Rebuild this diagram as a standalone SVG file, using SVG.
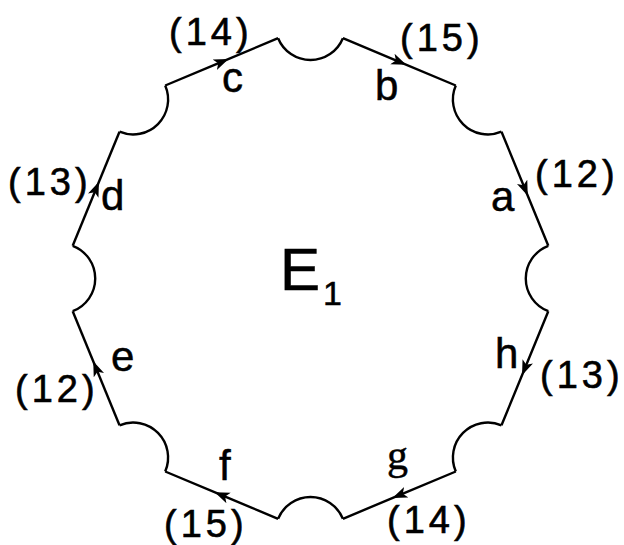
<svg xmlns="http://www.w3.org/2000/svg" width="624" height="545" viewBox="0 0 624 545">
  <style>
    .ln { fill: none; stroke: #000; stroke-width: 2.4; stroke-linejoin: miter; }
    .edge { fill: none; stroke: #000; stroke-width: 2.4; marker-mid: url(#arr); }
    .lbl { font-family: "Liberation Sans", Arial, sans-serif; font-size: 42px; fill: #000; stroke: #000; stroke-width: 0.5; }
    .lblg { font-family: "Liberation Serif", "Times New Roman", serif; font-size: 42px; fill: #000; stroke: #000; stroke-width: 0.5; }
    .num { font-family: "Liberation Sans", Arial, sans-serif; font-size: 38px; letter-spacing: 4px; fill: #000; stroke: #000; stroke-width: 0.6; }
    .big { font-family: "Liberation Sans", Arial, sans-serif; font-size: 60px; fill: #000; stroke: #000; stroke-width: 0.6; }
    .sub { font-family: "Liberation Sans", Arial, sans-serif; font-size: 34px; fill: #000; stroke: #000; stroke-width: 0.5; }
  </style>
  <defs>
    <marker id="arr" markerUnits="userSpaceOnUse" markerWidth="15" markerHeight="12" viewBox="0 0 12 9" refX="6" refY="4.5" orient="auto">
      <path d="M0,0 L12,4.5 L0,9 L3,4.5 Z" fill="#000"/>
    </marker>
  </defs>
  <rect width="624" height="545" fill="#fff"/>

  <g id="boundary-arcs">
    <path class="ln" d="M278.1,38.2 A35,35 0 0 0 342.9,38.2"/>
    <path class="ln" d="M455.8,85.5 A35,35 0 0 0 501.5,131.7"/>
    <path class="ln" d="M548.3,245.8 A35,35 0 0 0 548.3,311.2"/>
    <path class="ln" d="M501.5,425.3 A35,35 0 0 0 455.8,471.5"/>
    <path class="ln" d="M342.9,518.8 A35,35 0 0 0 278.1,518.8"/>
    <path class="ln" d="M165.2,471.5 A35,35 0 0 0 119.5,425.3"/>
    <path class="ln" d="M72.7,311.2 A35,35 0 0 0 72.7,245.8"/>
    <path class="ln" d="M119.5,131.7 A35,35 0 0 0 165.2,85.5"/>
  </g>

  <g id="connectors">
    <path id="edge-c" class="edge" d="M165.2,85.5 L221.65,61.85 L278.1,38.2"/>
    <path id="edge-b" class="edge" d="M342.9,38.2 L399.35,61.85 L455.8,85.5"/>
    <path id="edge-a" class="edge" d="M501.5,131.7 L524.9,188.75 L548.3,245.8"/>
    <path id="edge-h" class="edge" d="M548.3,311.2 L524.9,368.25 L501.5,425.3"/>
    <path id="edge-g" class="edge" d="M455.8,471.5 L399.35,495.15 L342.9,518.8"/>
    <path id="edge-f" class="edge" d="M278.1,518.8 L221.65,495.15 L165.2,471.5"/>
    <path id="edge-e" class="edge" d="M119.5,425.3 L96.1,368.25 L72.7,311.2"/>
    <path id="edge-d" class="edge" d="M72.7,245.8 L96.1,188.75 L119.5,131.7"/>
  </g>

  <g id="region-E1">
    <text class="big" x="280" y="290">E</text>
    <text class="sub" x="323" y="305">1</text>
  </g>

  <g id="labels">
    <text class="num" x="169" y="45">(14)</text>
    <text class="lbl" x="222" y="92">c</text>
    <text class="num" x="400" y="51">(15)</text>
    <text class="lbl" x="375" y="100">b</text>
    <text class="num" x="535" y="187">(12)</text>
    <text class="lbl" x="491" y="211">a</text>
    <text class="num" x="540" y="388">(13)</text>
    <text class="lbl" x="495" y="368">h</text>
    <text class="lblg" x="387" y="469">g</text>
    <text class="num" x="387" y="533">(14)</text>
    <text class="lbl" x="219" y="480">f</text>
    <text class="num" x="164" y="537">(15)</text>
    <text class="lbl" x="111" y="371">e</text>
    <text class="num" x="15" y="402">(12)</text>
    <text class="num" x="8" y="195">(13)</text>
    <text class="lbl" x="101" y="210">d</text>
  </g>
</svg>
